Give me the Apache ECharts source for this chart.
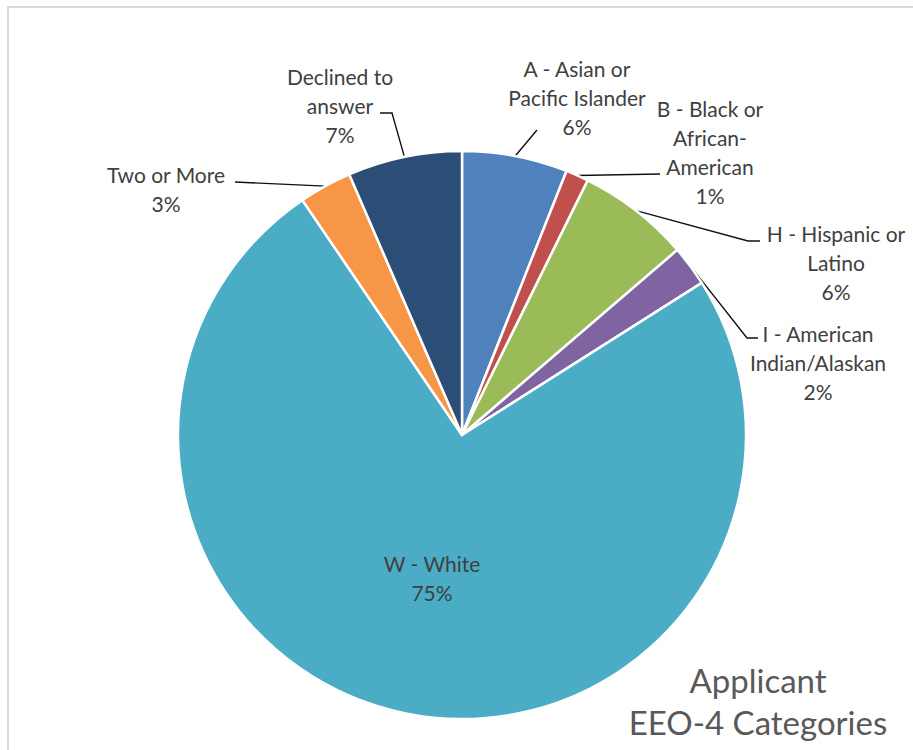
<!DOCTYPE html>
<html>
<head>
<meta charset="utf-8">
<script src="https://cdn.jsdelivr.net/npm/echarts@6/dist/echarts.min.js"></script>
<style>
  html, body { margin: 0; padding: 0; background: #fff; }
  #chart { width: 913px; height: 750px; }
</style>
</head>
<body>
<div id="chart"></div>
<script>
// Applicant counts by EEO-4 category, as shares of all applicants (%)
const categories = [
  'A - Asian or\nPacific Islander',
  'B - Black or\nAfrican-\nAmerican',
  'H - Hispanic or\nLatino',
  'I - American\nIndian/Alaskan',
  'W - White',
  'Two or More',
  'Declined to\nanswer'
];
const shares = [6.0, 1.3, 6.4, 2.3, 74.5, 3.0, 6.5];
const sliceColors = ['#4F81BD', '#C0504D', '#9BBB59', '#8064A2', '#4BACC6', '#F79646', '#2C4D75'];
const titleLines = ['Applicant', 'EEO-4 Categories'];

// Where each label block sits (centre) and how its leader line bends
const labelPlacement = [
  { cx: 577, cy: 97,  bend: [537, 130], end: [537, 130] },
  { cx: 710, cy: 152, bend: [660, 174], end: [660, 174] },
  { cx: 836, cy: 262, bend: [748, 241], end: [760, 241] },
  { cx: 818, cy: 362, bend: [747, 338], end: [758, 338] },
  { cx: 432, cy: 578, inside: true },
  { cx: 166, cy: 189, bend: [235, 182], end: [235, 182] },
  { cx: 340, cy: 105, bend: [392, 113], end: [380, 113] }
];

const FONT = 'Lato, "Open Sans", sans-serif';

const chart = echarts.init(document.getElementById('chart'), null, { renderer: 'svg' });

const data = categories.map((name, i) => {
  const item = { name: name, value: shares[i], itemStyle: { color: sliceColors[i] } };
  if (labelPlacement[i].inside) {
    item.label = { position: 'inside' };
    item.labelLine = { show: false };
  }
  return item;
});

chart.setOption({
  backgroundColor: '#ffffff',
  animation: false,
  graphic: [
    { type: 'line', shape: { x1: 8, y1: 6, x2: 8, y2: 750 }, style: { stroke: '#d9d9d9', lineWidth: 2 }, z: 0 },
    { type: 'line', shape: { x1: 7, y1: 7, x2: 913, y2: 7 }, style: { stroke: '#d9d9d9', lineWidth: 2 }, z: 0 },
    {
      type: 'text', x: 758, y: 701,
      style: {
        text: titleLines.join('\n'),
        align: 'center', verticalAlign: 'middle',
        font: '33px ' + FONT, lineHeight: 42, fill: '#595959'
      },
      z: 10
    }
  ],
  series: [{
    type: 'pie',
    center: [462, 435],
    radius: 284,
    startAngle: 90,
    clockwise: true,
    avoidLabelOverlap: false,
    itemStyle: { borderColor: '#ffffff', borderWidth: 2.5 },
    label: {
      show: true,
      position: 'outside',
      color: '#404040',
      fontFamily: FONT,
      fontSize: 21,
      lineHeight: 29,
      align: 'center',
      formatter: p => p.name + '\n' + Math.round(p.percent) + '%'
    },
    labelLine: {
      show: true,
      length: 20,
      length2: 20,
      lineStyle: { color: '#111111', width: 1.4 }
    },
    emphasis: { disabled: true },
    labelLayout: function (params) {
      const pl = labelPlacement[params.dataIndex];
      const out = { x: pl.cx, y: pl.cy, align: 'center', verticalAlign: 'middle' };
      if (!pl.inside && params.labelLinePoints) {
        const start = params.labelLinePoints[0];
        out.labelLinePoints = [start, pl.bend, pl.end];
      }
      return out;
    },
    data: data
  }]
});
</script>
</body>
</html>
